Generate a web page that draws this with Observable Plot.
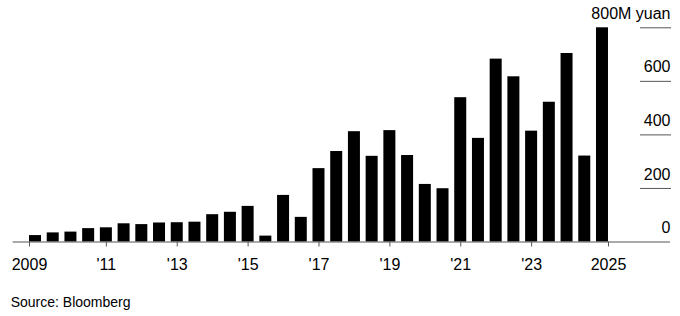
<!DOCTYPE html>
<html>
<head>
<meta charset="utf-8">
<script src="https://cdn.jsdelivr.net/npm/d3@7"></script>
<script src="https://cdn.jsdelivr.net/npm/@observablehq/plot@0.6"></script>
<style>
  body { margin: 0; background: #fff; font-family: "Liberation Sans", Arial, sans-serif; }
  #chart svg { display: block; }
  #caption { font-size: 14px; line-height: 16px; color: #000; padding-left: 10.7px; margin-top: 10px; }
</style>
</head>
<body>
<div id="chart"></div>
<div id="caption">Source: Bloomberg</div>
<script>
const periods = [
  "2009 H1","2009 H2","2010 H1","2010 H2","2011 H1","2011 H2","2012 H1","2012 H2",
  "2013 H1","2013 H2","2014 H1","2014 H2","2015 H1","2015 H2","2016 H1","2016 H2",
  "2017 H1","2017 H2","2018 H1","2018 H2","2019 H1","2019 H2","2020 H1","2020 H2",
  "2021 H1","2021 H2","2022 H1","2022 H2","2023 H1","2023 H2","2024 H1","2024 H2",
  "2025 H1"
];
const values = [
  24, 34, 37, 50, 53, 68, 65, 71,
  72, 74, 102, 111, 133, 22, 174, 92,
  274, 338, 412, 320, 416, 323, 215, 199,
  539, 387, 683, 617, 414, 522, 704, 321,
  800
];
const xTickLabels = ["2009", "'11", "'13", "'15", "'17", "'19", "'21", "'23", "2025"];
const yTicks = [0, 200, 400, 600, 800];
const yUnit = "M yuan";

const n = periods.length;
const barW = 12 / 17.72; // bar width as fraction of step
const data = periods.map((p, i) => ({i, period: p, value: values[i]}));

// tick positions (in bar-index units): first/last at outer bar edges, others at every 4th bar centre
const xTickPos = xTickLabels.map((_, k) =>
  k === 0 ? 0 : k === xTickLabels.length - 1 ? n - 1 + barW : 4 * k + barW / 2);
const tickLabelMap = new Map(xTickPos.map((p, k) => [p, xTickLabels[k]]));

const chart = Plot.plot({
  width: 680,
  height: 284,
  marginLeft: 12.7,
  marginRight: 10,
  marginTop: 27.3,
  marginBottom: 42.5,
  x: {type: "linear", domain: [-0.92, n - 1 + barW + 3.5], axis: null, label: null},
  y: {domain: [0, 800], axis: null, label: null},
  style: {fontFamily: "'Liberation Sans', Arial, sans-serif", fontSize: "16px", color: "#000", background: "#fff"},
  marks: [
    Plot.rect(data, {x1: "i", x2: d => d.i + barW, y1: 0, y2: "value", fill: "#000"}),
    Plot.ruleY([0], {stroke: "#555"}),
    Plot.axisX(xTickPos, {
      anchor: "bottom", tickSize: 5, tickPadding: 12, stroke: "#555", fill: "#000",
      fontSize: 16, label: null, tickFormat: d => tickLabelMap.get(d)
    }),
    Plot.axisY(yTicks.filter(d => d > 0), {
      anchor: "right", tickSize: 31, dx: -31, stroke: "#555", label: null, tickFormat: () => ""
    }),
    Plot.axisY(yTicks, {
      anchor: "right", tickSize: 0, tickPadding: 0, textAnchor: "end", dy: -14,
      fontSize: 16, fill: "#000", label: null,
      tickFormat: d => d === 800 ? `${d}${yUnit}` : `${d}`
    })
  ]
});
document.getElementById("chart").append(chart);
</script>
</body>
</html>
